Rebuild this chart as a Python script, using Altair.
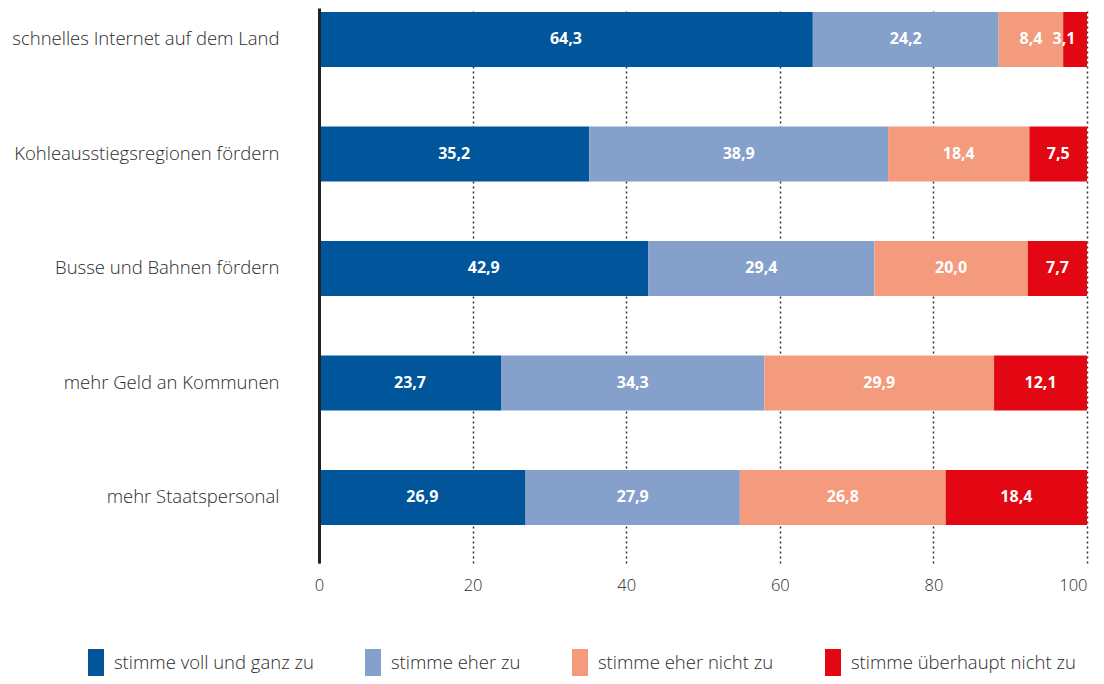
import altair as alt
import pandas as pd

categories = [
    "schnelles Internet auf dem Land",
    "Kohleausstiegsregionen fördern",
    "Busse und Bahnen fördern",
    "mehr Geld an Kommunen",
    "mehr Staatspersonal",
]
answers = [
    "stimme voll und ganz zu",
    "stimme eher zu",
    "stimme eher nicht zu",
    "stimme überhaupt nicht zu",
]
voll = [64.3, 35.2, 42.9, 23.7, 26.9]
eher = [24.2, 38.9, 29.4, 34.3, 27.9]
eher_nicht = [8.4, 18.4, 20.0, 29.9, 26.8]
gar_nicht = [3.1, 7.5, 7.7, 12.1, 18.4]
colors = ["#00559b", "#86a0cc", "#f39b7c", "#e30613"]
x_ticks = [0, 20, 40, 60, 80, 100]

series = [voll, eher, eher_nicht, gar_nicht]
rows = []
for ai, (ans, vals) in enumerate(zip(answers, series)):
    for cat, v in zip(categories, vals):
        rows.append({"cat": cat, "answer": ans, "order": ai, "value": v,
                     "label": f"{v:.1f}".replace(".", ",")})
df = pd.DataFrame(rows)

FONT = "Open Sans"

base = alt.Chart(df).transform_stack(
    stack="value", groupby=["cat"], sort=[{"field": "order"}], as_=["x0", "x1"]
).transform_calculate(mid="min((datum.x0 + datum.x1) / 2, 97)")

y_enc = alt.Y(
    "cat:N",
    sort=categories,
    title=None,
    scale=alt.Scale(paddingInner=0.52, paddingOuter=0.1836, align=0.095),
    axis=alt.Axis(
        domain=True, domainColor="#222222", domainWidth=3, ticks=False,
        labelPadding=40, labelFontSize=18.5, labelColor="#2b2b2b",
        labelFont=FONT, labelFontWeight=300, labelLimit=0, grid=False, zindex=1,
    ),
)

bars = base.mark_bar().encode(
    x=alt.X(
        "x0:Q",
        title=None,
        scale=alt.Scale(domain=[0, 100], nice=False),
        axis=alt.Axis(
            values=x_ticks, domain=False, ticks=False, grid=True,
            gridDash=[2, 3], gridColor="#333333", gridWidth=1.5,
            labelPadding=14, labelFontSize=16.5, labelColor="#2b2b2b",
            labelFont=FONT, labelFontWeight=300, zindex=0,
            labelAlign={"condition": {"test": "datum.value == 100", "value": "right"}, "value": "center"},
        ),
    ),
    x2="x1:Q",
    y=y_enc,
    color=alt.Color(
        "answer:N",
        sort=answers,
        scale=alt.Scale(domain=answers, range=colors),
        legend=alt.Legend(
            title=None, orient="none", legendX=-237, legendY=641,
            direction="horizontal",
            symbolType="M-0.571,-1H0.571V1H-0.571Z",
            symbolSize=784, symbolStrokeWidth=0, symbolOpacity=1,
            labelFontSize=18.5, labelColor="#2b2b2b", labelFont=FONT,
            labelFontWeight=300, labelLimit=0,
            labelOffset=4, columnPadding=45,
        ),
    ),
    order=alt.Order("order:Q"),
)

texts = base.mark_text(
    color="white", fontWeight="bold", fontSize=16, font=FONT, baseline="middle"
).encode(
    x="mid:Q",
    y=alt.Y("cat:N", sort=categories),
    text="label:N",
)

chart = alt.layer(bars, texts).properties(
    width=768,
    height=555,
    autosize=alt.AutoSizeParams(type="none"),
    padding={"left": 311, "top": 0, "right": 9, "bottom": 113},
).configure_view(stroke=None)

chart.save("out.html", embed_options={"renderer": "svg", "actions": False})
